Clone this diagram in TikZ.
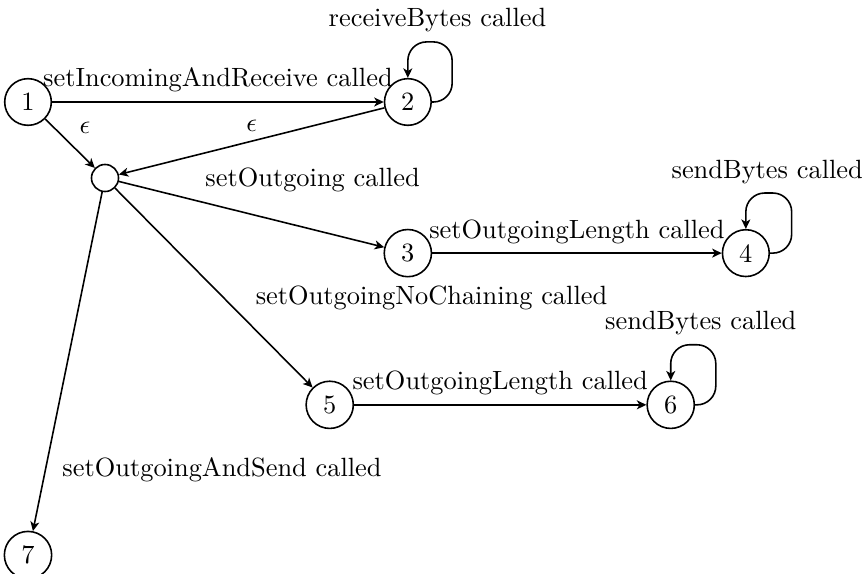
\documentclass[tikz,border=0pt]{standalone}
\usepackage{amssymb}
\usepackage{amsmath}
\usepackage{tikz}
\usetikzlibrary{arrows.meta,calc}

\begin{document}
\begin{tikzpicture}[stnode/.style={circle, draw, semithick, minimum size=0.5cm},
		trans/.style={semithick, -{Stealth[length=3.6pt, width=3.4pt, inset=1pt]}},
		selfloop/.style={trans, rounded corners=2.5mm}]
						\useasboundingbox (0,0) rectangle (11.53,-7.63);
						
						\node[stnode] (n1) at (0.373,-1.358) {1};
						\node[stnode] (n2) at (5.43,-1.358) {2};
						\node[stnode, minimum size=0.36cm] (n0) at (1.398,-2.37) {};
						\node[stnode] (n3) at (5.43,-3.37) {3};
						\node[stnode] (n4) at (9.93,-3.37) {4};
						\node[stnode] (n5) at (4.39,-5.39) {5};
						\node[stnode] (n6) at (8.93,-5.39) {6};
						\node[stnode] (n7) at (0.373,-7.39) {7};
						
						\draw[trans] (n1) -- node[above right] {$\epsilon$} (n0);
						\draw[trans] (n1) -- node[above] {setIncomingAndReceive called} (n2);
						\draw[trans] (n2) -- node[above] {$\epsilon$} (n0);
						\draw[trans] (n0) -- node[pos=0.73, above=3.7mm] {setOutgoing called} (n3);
						\draw[trans] (n3) -- node[above] {setOutgoingLength called} (n4);
						\draw[trans] (n0) -- node[pos=0.55, right=3mm] {setOutgoingNoChaining called} (n5);
						\draw[trans] (n5) -- node[above] {setOutgoingLength called} (n6);
						\draw[trans] (n0) -- node[pos=0.82, right=1mm] {setOutgoingAndSend called} (n7);
						
						% loops
						\coordinate (c2) at ($(n2)+(0.59,0.8)$);
						\coordinate (c4) at ($(n4)+(0.61,0.8)$);
						\coordinate (c6) at ($(n6)+(0.6,0.8)$);
						\draw[selfloop] (n2.east) -| (c2) -| node[pos=0.25, above, xshift=1mm] {receiveBytes called} (n2.north);
						\draw[selfloop] (n4.east) -| (c4) -| node[pos=0.25, above, xshift=-0.2mm] {sendBytes called} (n4.north);
						\draw[selfloop] (n6.east) -| (c6) -| node[pos=0.25, above, xshift=1mm] {sendBytes called} (n6.north);
					\end{tikzpicture}
\end{document}
